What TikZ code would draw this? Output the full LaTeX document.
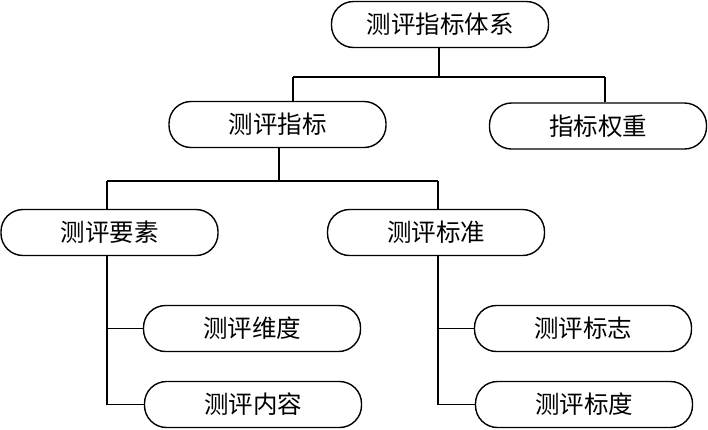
\documentclass[tikz,border=0pt]{standalone}
\usepackage{fontspec}
\newfontfamily\cjk{Noto Sans CJK SC}
\begin{document}
\begin{tikzpicture}[x=1pt,y=-1pt,
  box/.style={draw=black,line width=1.4pt,rounded corners=22pt,minimum width=217pt,minimum height=46pt,inner sep=0pt,
    font=\cjk\fontsize{24.5}{24.5}\selectfont},
  conn/.style={draw=black,line width=1.4pt}]
\useasboundingbox (0,0) rectangle (708,429);
\node[box] (top) at (440,24.5) {测评指标体系};
\node[box] (zb) at (277.5,124.5) {测评指标};
\node[box] (qz) at (598,126) {指标权重};
\node[box] (ys) at (109.5,232.5) {测评要素};
\node[box] (bz) at (436,232.5) {测评标准};
\node[box] (wd) at (252,328.5) {测评维度};
\node[box] (nr) at (253,404.5) {测评内容};
\node[box] (bzh) at (583,328.5) {测评标志};
\node[box] (bd) at (584,404.5) {测评标度};
\coordinate (j1) at (293,77);
\coordinate (j2) at (605,77);
\coordinate (k1) at (107,181);
\coordinate (k2) at (438,181);
\draw[conn] (top.south -| 439,0) -- (j1 -| 439,0);
\draw[conn] (j1) -- (j2);
\draw[conn] (j1) -- (j1 |- zb.north);
\draw[conn] (j2) -- (j2 |- qz.north);
\draw[conn] (zb.south -| 279,0) -- (k1 -| 279,0);
\draw[conn] (k1) -- (k2);
\draw[conn] (k1) -- (k1 |- ys.north);
\draw[conn] (k2) -- (k2 |- bz.north);
\draw[conn] (k1 |- ys.south) |- (nr.west);
\draw[conn] (k1 |- wd.west) -- (wd.west);
\draw[conn] (k2 |- bz.south) |- (bd.west);
\draw[conn] (k2 |- bzh.west) -- (bzh.west);
\end{tikzpicture}
\end{document}
